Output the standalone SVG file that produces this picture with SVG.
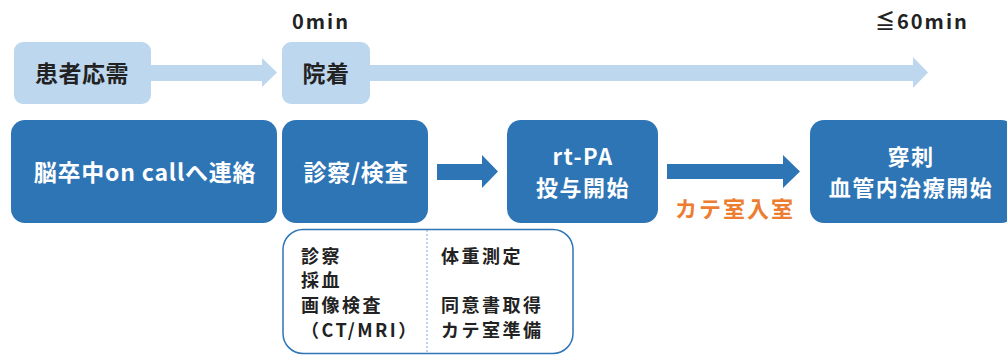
<svg xmlns="http://www.w3.org/2000/svg" width="1007" height="356" viewBox="0 0 1007 356">
<style>
text{font-family:"Noto Sans CJK JP","Noto Sans",sans-serif;font-weight:bold}
.light{fill:#bdd7ee}
.dark{fill:#2e75b6}
.lt{font-size:23px;fill:#222;text-anchor:middle;letter-spacing:0.5px}
.wt{font-size:23px;fill:#fff;text-anchor:middle;letter-spacing:0.8px}
.wt2{font-size:22px;fill:#fff;text-anchor:middle;letter-spacing:1.5px}
.tm{font-size:20px;fill:#222;letter-spacing:2px}
.or{font-size:22px;fill:#ed7d31;text-anchor:middle;letter-spacing:2px}
.st{font-size:18px;fill:#222;letter-spacing:2.5px}
.la{fill:#bdd7ee}
.da{fill:#2e75b6}
</style>
<rect width="1007" height="356" fill="#fff"/>
<g id="connectors">
<polygon class="la" points="150,65 262,65 262,58 277,72.5 262,87 262,81 150,81"/>
<polygon class="la" points="370,65 913,65 913,57 928,72.5 913,88 913,81 370,81"/>
<polygon class="da" points="437,164 482,164 482,155 498,171.5 482,188 482,180 437,180"/>
<polygon class="da" points="667,164 783,164 783,155 800,171.5 783,188 783,179 667,179"/>
<text class="or" x="735" y="217">カテ室入室</text>
</g>
<g id="time-0">
<text class="tm" x="292" y="29">0min</text>
</g>
<g id="time-60">
<text class="tm" x="875" y="29">≦60min</text>
</g>
<g id="n-kanja">
<rect class="light" x="14" y="42" width="137" height="62" rx="9"/>
<text class="lt" x="82" y="82">患者応需</text>
</g>
<g id="n-inchaku">
<rect class="light" x="282" y="42" width="88" height="62" rx="9"/>
<text class="lt" x="326" y="82">院着</text>
</g>
<g id="n-oncall">
<rect class="dark" x="11" y="120" width="266" height="103" rx="14"/>
<text class="wt" x="145" y="181">脳卒中on callへ連絡</text>
</g>
<g id="n-shinsatsu">
<rect class="dark" x="282" y="120" width="146" height="103" rx="14"/>
<text class="wt" x="356" y="181">診察/検査</text>
</g>
<g id="n-rtpa">
<rect class="dark" x="507" y="120" width="151" height="103" rx="14"/>
<text class="wt2" x="583" y="165">rt-PA</text>
<text class="wt2" x="583" y="196">投与開始</text>
</g>
<g id="n-senshi">
<rect class="dark" x="810" y="120" width="205" height="103" rx="14"/>
<text class="wt2" x="911" y="165">穿刺</text>
<text class="wt2" x="911" y="196">血管内治療開始</text>
</g>
<g id="n-detail">
<rect x="283" y="229.5" width="290" height="124" rx="20" fill="#fff" stroke="#2e75b6" stroke-width="1.5"/>
<line x1="427" y1="230" x2="427" y2="353" stroke="#7fa7d4" stroke-width="1" stroke-dasharray="2,2"/>
<text class="st" x="301" y="263">診察</text>
<text class="st" x="301" y="287">採血</text>
<text class="st" x="301" y="312">画像検査</text>
<text class="st" x="301" y="337">（CT/MRI）</text>
<text class="st" x="441" y="263">体重測定</text>
<text class="st" x="441" y="312">同意書取得</text>
<text class="st" x="441" y="337">カテ室準備</text>
</g>
</svg>
